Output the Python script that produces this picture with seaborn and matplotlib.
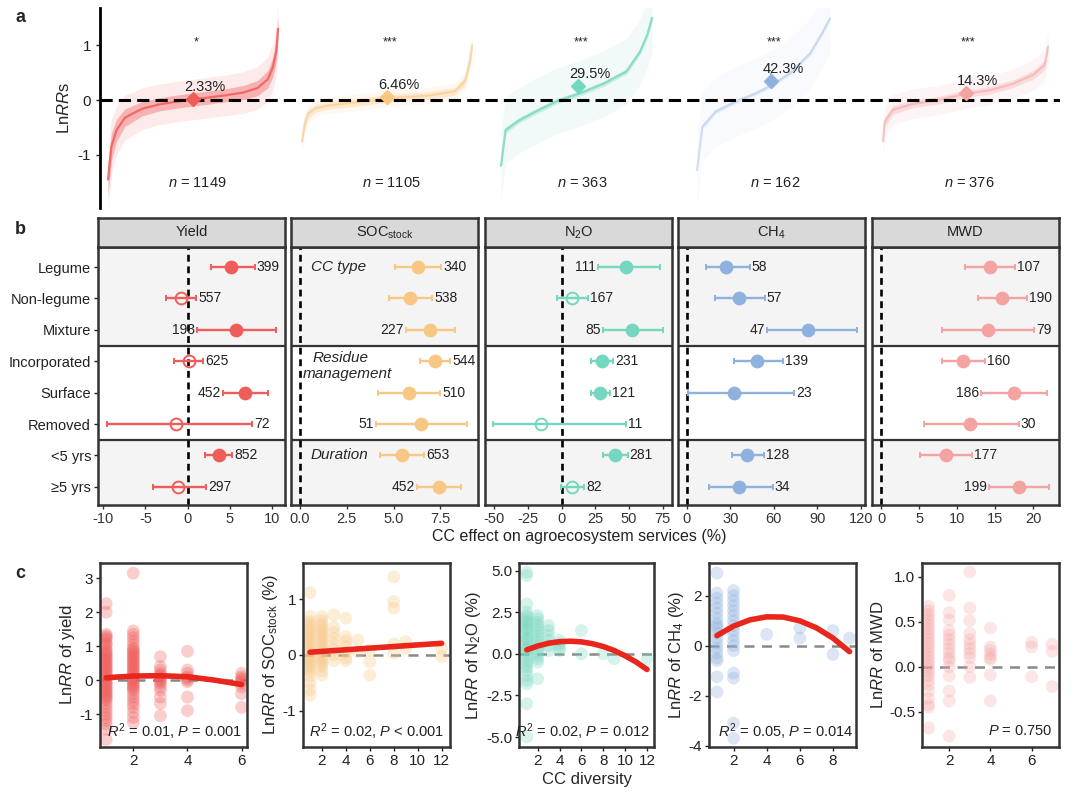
import numpy as np
import pandas as pd
import matplotlib
matplotlib.use("Agg")
import matplotlib.pyplot as plt
import seaborn as sns

sns.set_style("ticks")
plt.rcParams['font.family'] = ['Liberation Sans', 'DejaVu Sans']
plt.rcParams['mathtext.fontset'] = 'custom'
plt.rcParams['mathtext.rm'] = 'Liberation Sans'
plt.rcParams['mathtext.it'] = 'Liberation Sans:italic'
plt.rcParams['axes.unicode_minus'] = False

W, H = 1080, 799

# ---------------- data ----------------
services = ['Yield', 'SOC', 'N2O', 'CH4', 'MWD']
strip_labels = ['Yield', r'SOC$_{\mathrm{stock}}$', r'N$_2$O', r'CH$_4$', 'MWD']
colors = ['#EF5D5B', '#F8C784', '#76D7C0', '#8FB1DE', '#F4A3A3']

# panel a: overall effect and sorted LnRR curves (rank fraction -> LnRR)
mean_pct = [2.33, 6.46, 29.5, 42.3, 14.3]
mean_ci = [0.01, 0.02, 0.04, 0.14, 0.02]
mean_rank = [0.5, 0.5, 0.51, 0.56, 0.5]
n_obs = [1149, 1105, 363, 162, 376]
stars = ['*', '***', '***', '***', '***']

yield_rank = [0, 0.02, 0.05, 0.1, 0.2, 0.3, 0.4, 0.5, 0.6, 0.7, 0.8, 0.88, 0.94, 0.97, 0.99, 1.0]
yield_lnrr = [-1.45, -0.85, -0.55, -0.32, -0.16, -0.08, -0.03, 0.01, 0.05, 0.09, 0.14, 0.22, 0.38, 0.6, 0.9, 1.3]
yield_band = [0.3, 0.25, 0.2, 0.16, 0.13, 0.12, 0.12, 0.12, 0.12, 0.12, 0.13, 0.14, 0.16, 0.18, 0.2, 0.2]

soc_rank = [0, 0.015, 0.035, 0.08, 0.15, 0.35, 0.5, 0.74, 0.9, 0.96, 0.99, 1.0]
soc_lnrr = [-0.75, -0.45, -0.25, -0.15, -0.1, -0.03, 0.03, 0.08, 0.16, 0.35, 0.75, 1.0]
soc_band = [0.1, 0.09, 0.08, 0.07, 0.07, 0.07, 0.07, 0.07, 0.07, 0.08, 0.1, 0.1]

n2o_rank = [0, 0.03, 0.12, 0.23, 0.37, 0.52, 0.68, 0.83, 0.92, 0.97, 1.0]
n2o_lnrr = [-1.2, -0.55, -0.37, -0.21, -0.02, 0.12, 0.3, 0.52, 0.88, 1.2, 1.5]
n2o_band = [0.08, 0.06, 0.05, 0.05, 0.05, 0.05, 0.05, 0.05, 0.05, 0.06, 0.08]

ch4_rank = [0, 0.04, 0.14, 0.29, 0.44, 0.56, 0.7, 0.85, 0.94, 1.0]
ch4_lnrr = [-1.28, -0.49, -0.21, -0.03, 0.12, 0.27, 0.49, 0.85, 1.22, 1.49]
ch4_band = [0.05, 0.04, 0.04, 0.04, 0.04, 0.04, 0.04, 0.04, 0.05, 0.05]

mwd_rank = [0, 0.01, 0.06, 0.18, 0.34, 0.49, 0.65, 0.79, 0.91, 0.98, 1.0]
mwd_lnrr = [-0.75, -0.4, -0.18, -0.07, 0.0, 0.11, 0.18, 0.3, 0.46, 0.64, 0.97]
mwd_band = [0.1, 0.09, 0.08, 0.07, 0.07, 0.07, 0.07, 0.07, 0.08, 0.09, 0.1]

a_spread = [0.25, 0.08, 0.55, 0.6, 0.2]

# panel b: subgroup effects (%)
b_rows = ['Legume', 'Non-legume', 'Mixture', 'Incorporated', 'Surface', 'Removed', '<5 yrs', '\u22655 yrs']

yield_mean = [5.1, -0.8, 5.7, 0.1, 6.8, -1.4, 3.7, -1.1]
yield_lo = [2.7, -2.6, 1.1, -1.65, 4.2, -9.5, 2.05, -4.1]
yield_hi = [7.9, 1.0, 10.4, 1.85, 9.5, 7.6, 5.25, 2.2]
yield_n = [399, 557, 193, 625, 452, 72, 852, 297]

soc_mean = [6.3, 5.9, 6.93, 7.23, 5.82, 6.44, 5.47, 7.4]
soc_lo = [5.1, 4.76, 5.64, 6.4, 4.15, 4.06, 4.27, 6.26]
soc_hi = [7.55, 7.05, 8.25, 8.02, 7.5, 8.9, 6.61, 8.6]
soc_n = [340, 538, 227, 544, 510, 51, 653, 452]

n2o_mean = [47.9, 7.4, 52, 30, 28.8, -15.3, 39.7, 7.7]
n2o_lo = [26.8, -3.5, 31, 21.9, 22, -51.3, 30.5, -0.5]
n2o_hi = [73.2, 19.3, 75, 38.5, 36, 47.9, 49, 16.9]
n2o_n = [111, 167, 85, 231, 121, 11, 281, 82]

ch4_mean = [27.3, 35.6, 83.8, 48.5, 32.5, np.nan, 41.8, 35.6]
ch4_lo = [12.9, 19.2, 55.6, 32.3, 0.7, np.nan, 31.4, 15.2]
ch4_hi = [43.4, 53.8, 117.3, 66.5, 73.9, np.nan, 53.3, 59.1]
ch4_n = [58, 57, 47, 139, 23, 0, 128, 34]

mwd_mean = [14.3, 15.9, 14.0, 10.75, 17.5, 11.7, 8.5, 18.1]
mwd_lo = [11.05, 12.8, 8.07, 8.07, 13.2, 5.7, 5.15, 14.2]
mwd_hi = [17.6, 19.2, 20.1, 13.6, 21.8, 18.1, 11.9, 22.1]
mwd_n = [107, 190, 79, 160, 186, 30, 177, 199]

# panel c: LnRR vs CC diversity
c_yield = {
    1: [2.25, 2.0, 1.35, 1.3, 1.25, 1.2, 1.1, 1.05, 1.0, 0.9, 0.85, 0.8, 0.75, 0.7, 0.65, 0.6, 0.55, 0.5, 0.45,
        0.4, 0.35, 0.3, 0.25, 0.2, 0.15, 0.1, 0.05, 0.0, -0.05, -0.1, -0.15, -0.2, -0.25, -0.3, -0.35, -0.4,
        -0.45, -0.5, -0.55, -0.6, -0.7, -0.8, -0.9, -1.0, -1.1, -1.2, -1.3, -1.45, -1.75],
    2: [3.15, 1.45, 1.35, 1.25, 1.15, 1.05, 0.95, 0.9, 0.85, 0.8, 0.75, 0.7, 0.65, 0.6, 0.55, 0.5, 0.45, 0.4,
        0.35, 0.3, 0.25, 0.2, 0.15, 0.1, 0.05, 0.0, -0.05, -0.1, -0.15, -0.2, -0.25, -0.3, -0.4, -0.5, -0.6,
        -0.7, -0.8, -0.95, -1.1, -1.25],
    3: [0.69, 0.4, 0.3, 0.2, 0.15, 0.1, 0.05, 0.0, -0.05, -0.1, -0.2, -0.3, -0.5, -0.69, -1.05],
    4: [0.85, 0.3, 0.2, 0.1, 0.05, 0.0, -0.05, -0.5, -0.9],
    6: [0.2, 0.1, 0.05, 0.0, -0.05, -0.1, -0.2, -0.4, -0.8],
}
c_soc = {
    1: [1.12, 0.69, 0.6, 0.55, 0.5, 0.45, 0.4, 0.35, 0.3, 0.25, 0.2, 0.15, 0.1, 0.05, 0.0, -0.05, -0.1,
        -0.15, -0.2, -0.25, -0.3, -0.38, -0.5, -0.62, -0.72],
    2: [0.69, 0.62, 0.55, 0.5, 0.45, 0.4, 0.35, 0.3, 0.25, 0.2, 0.15, 0.1, 0.05, 0.0, -0.05, -0.1, -0.15,
        -0.2, -0.28, -0.36],
    3: [0.72, 0.5, 0.4, 0.3, 0.2, 0.1, 0.0, -0.1],
    4: [0.66, 0.33, 0.25, 0.15, 0.05, -0.05, -0.1],
    5: [0.27, 0.06],
    6: [0.09, -0.12, -0.36],
    8: [1.4, 0.96, 0.84, 0.2, 0.03],
    9: [0.24, 0.12],
    12: [0.12, -0.03],
}
c_n2o = {
    1: [4.9, 4.7, 3.0, 2.5, 2.3, 2.2, 2.0, 1.9, 1.8, 1.6, 1.5, 1.4, 1.2, 1.0, 0.9, 0.8, 0.6, 0.4, 0.3, 0.2,
        0.0, -0.2, -0.4, -0.6, -0.8, -1.0, -1.3, -1.6, -1.8, -3.0, -5.0],
    2: [2.3, 2.1, 1.9, 1.7, 1.5, 1.3, 1.1, 0.9, 0.7, 0.5, 0.3, 0.1, -0.1, -0.3, -0.5, -1.5],
    3: [1.7, 1.4, 1.1, 0.8, 0.5, 0.2],
    4: [0.8, 0.6, 0.4, 0.2],
    6: [1.4, 0.0],
    8: [0.0],
    9: [-0.3],
    12: [-0.3],
}
c_ch4 = {
    1: [2.9, 2.1, 1.9, 1.7, 1.5, 1.3, 1.1, 0.9, 0.8, 0.7, 0.5, 0.3, 0.1, -0.1, -0.3, -0.5, -0.6, -1.25, -1.85],
    2: [2.2, 2.0, 1.8, 1.6, 1.4, 1.2, 1.0, 0.8, 0.6, 0.4, 0.2, 0.0, -0.2, -1.1, -1.3, -3.1, -3.7],
    4: [0.45],
    6: [0.7, 0.3],
    8: [0.6, -0.35],
    9: [0.3],
}
c_mwd = {
    1: [0.67, 0.62, 0.58, 0.54, 0.5, 0.46, 0.42, 0.38, 0.34, 0.3, 0.26, 0.22, 0.18, 0.14, 0.1, 0.06, 0.02,
        -0.02, -0.06, -0.1, -0.15, -0.2, -0.27, -0.35, -0.42, -0.45, -0.68],
    2: [0.79, 0.6, 0.52, 0.4, 0.35, 0.3, 0.25, 0.2, 0.15, 0.1, 0.07, 0.0, -0.1, -0.27, -0.38, -0.77],
    3: [1.05, 0.65, 0.51, 0.37, 0.3, 0.25, 0.2, 0.15, 0.1, 0.0, -0.12],
    4: [0.43, 0.22, 0.18, 0.14, 0.1, 0.08, -0.09, -0.38],
    6: [0.27, 0.22, -0.11],
    7: [0.25, 0.17, -0.22],
}

fit_yield_x = [1, 2, 3, 4, 5, 6]
fit_yield_y = [0.07, 0.12, 0.13, 0.10, 0.0, -0.13]
fit_soc_x = [1, 12]
fit_soc_y = [0.05, 0.21]
fit_n2o_x = [1, 2, 3, 4, 5, 6, 7, 8, 9, 10, 11, 12]
fit_n2o_y = [0.24, 0.47, 0.64, 0.73, 0.76, 0.72, 0.61, 0.44, 0.2, -0.12, -0.49, -0.94]
fit_ch4_x = [1, 2, 3, 4, 5, 6, 7, 8, 9]
fit_ch4_y = [0.4, 0.78, 1.03, 1.15, 1.14, 0.99, 0.71, 0.3, -0.24]

c_stats = [r'$R^2$ = 0.01, $P$ = 0.001', r'$R^2$ = 0.02, $P$ < 0.001', r'$R^2$ = 0.02, $P$ = 0.012',
           r'$R^2$ = 0.05, $P$ = 0.014', r'$P$ = 0.750']
c_ylabels = [r'Ln$\mathit{RR}$ of yield', r'Ln$\mathit{RR}$ of SOC$_{\mathrm{stock}}$ (%)',
             r'Ln$\mathit{RR}$ of N$_2$O (%)', r'Ln$\mathit{RR}$ of CH$_4$ (%)', r'Ln$\mathit{RR}$ of MWD']

# ---------------- figure ----------------
fig = plt.figure(figsize=(W / 100, H / 100), dpi=100)
SPINE = '#333333'


def rect(l, t, r, b):
    return [l / W, 1 - b / H, (r - l) / W, (b - t) / H]


# ---- panel a
axa = fig.add_axes(rect(100, 8, 1060, 208))
a_start = [8, 202, 401, 597, 783]
a_width = [170, 170, 151, 133, 165]
a_line_alpha = [0.85, 0.6, 0.8, 0.35, 0.55]
a_band_alpha = [0.4, 0.3, 0.3, 0.15, 0.3]
a_spread_alpha = [0.12, 0.12, 0.1, 0.06, 0.1]
curves = [(yield_rank, yield_lnrr, yield_band), (soc_rank, soc_lnrr, soc_band),
          (n2o_rank, n2o_lnrr, n2o_band), (ch4_rank, ch4_lnrr, ch4_band),
          (mwd_rank, mwd_lnrr, mwd_band)]
axa.axhline(0, color='black', lw=2.2, ls=(0, (4, 2)), zorder=5)
for i, (rk, lr, bd) in enumerate(curves):
    c = colors[i]
    xs = a_start[i] + a_width[i] * np.array(rk)
    lr = np.array(lr)
    bd = np.array(bd)
    axa.fill_between(xs, lr - bd - a_spread[i], lr + bd + a_spread[i], color=c, alpha=a_spread_alpha[i], lw=0)
    axa.fill_between(xs, lr - bd, lr + bd, color=c, alpha=a_band_alpha[i], lw=0)
    sns.lineplot(x=xs, y=lr, color=c, lw=1.6, alpha=a_line_alpha[i], ax=axa, errorbar=None)
    mx = a_start[i] + a_width[i] * mean_rank[i]
    my = np.log(1 + mean_pct[i] / 100.)
    axa.errorbar(mx, my, yerr=mean_ci[i], fmt='D', ms=7, color=c, elinewidth=1.5, zorder=6)
    axa.text(mx + 12, my + 0.22, '%g%%' % mean_pct[i],
             ha='center', va='center', fontsize=10.5, color='#222222', zorder=7)
    axa.text(mx + 3, 1.05, stars[i], ha='center', va='center', fontsize=9, color='#222222')
    axa.text(mx + 4, -1.52, r'$n$ = %d' % n_obs[i], ha='center', va='center', fontsize=10.5, color='#222222')
axa.set_xlim(0, 960)
axa.set_ylim(-1.97, 1.68)
axa.set_yticks([-1, 0, 1])
axa.set_xticks([])
for s in ['top', 'right', 'bottom']:
    axa.spines[s].set_visible(False)
axa.spines['left'].set_linewidth(2)
axa.spines['left'].set_color('black')
axa.tick_params(axis='y', labelsize=11, length=3, width=1, colors='#222222')
axa.set_ylabel(r'Ln$\mathit{RR}$s', fontsize=12, labelpad=4)
axa.set_facecolor('none')

# ---- panel b
b_left = [98, 291, 485, 678, 872]
b_xlim = [(-10.6, 11.5), (-0.47, 9.5), (-57, 82), (-6.2, 123), (-1.2, 23.4)]
b_ticks = [[-10, -5, 0, 5, 10], [0, 2.5, 5, 7.5], [-50, -25, 0, 25, 50, 75], [0, 30, 60, 90, 120], [0, 5, 10, 15, 20]]
b_data = [(yield_mean, yield_lo, yield_hi, yield_n), (soc_mean, soc_lo, soc_hi, soc_n),
          (n2o_mean, n2o_lo, n2o_hi, n2o_n), (ch4_mean, ch4_lo, ch4_hi, ch4_n),
          (mwd_mean, mwd_lo, mwd_hi, mwd_n)]
b_label_left = [[2, 4], [2, 5, 7], [0, 2], [2], [4, 7]]

for j in range(5):
    l = b_left[j]
    r = l + 187
    ax = fig.add_axes(rect(l, 247, r, 505))
    st = fig.add_axes(rect(l, 218, r, 247))
    st.set_facecolor('#d9d9d9')
    st.set_xticks([])
    st.set_yticks([])
    st.text(0.5, 0.5, strip_labels[j], ha='center', va='center', fontsize=10.5, color='#222222',
            transform=st.transAxes)
    for a in (ax, st):
        for s in a.spines.values():
            s.set_color(SPINE)
            s.set_linewidth(1.8)
    ax.axhspan(-1, 2.5, color='#f4f4f4', lw=0, zorder=0)
    ax.axhspan(5.5, 9, color='#f4f4f4', lw=0, zorder=0)
    ax.axhline(2.5, color=SPINE, lw=1.6, zorder=1)
    ax.axhline(5.5, color=SPINE, lw=1.6, zorder=1)
    ax.axvline(0, color='black', lw=1.9, ls=(0, (2.6, 1.8)), zorder=2)
    mean, lo, hi, n = [np.array(v, dtype=float) for v in b_data[j]]
    c = colors[j]
    for k in range(8):
        if np.isnan(mean[k]):
            continue
        filled = lo[k] > 0 or hi[k] < 0
        ax.errorbar(mean[k], k, xerr=[[mean[k] - lo[k]], [hi[k] - mean[k]]], fmt='o', ms=8.5, color=c,
                    mfc=c if filled else 'none', mec=c, mew=1.4, elinewidth=1.7, capsize=2.5, capthick=1.4,
                    zorder=3)
        if k in b_label_left[j]:
            ax.annotate('%d' % n[k], (lo[k], k), xytext=(-1.5, 0), textcoords='offset points',
                        ha='right', va='center', fontsize=10, color='#222222', zorder=4)
        else:
            ax.annotate('%d' % n[k], (hi[k], k), xytext=(1.5, 0), textcoords='offset points',
                        ha='left', va='center', fontsize=10, color='#222222', zorder=4)
    ax.set_xlim(*b_xlim[j])
    ax.set_ylim(7.58, -0.64)
    ax.set_xticks(b_ticks[j])
    ax.set_yticks(range(8))
    ax.tick_params(axis='x', labelsize=10.5, length=3, width=1, colors='#333333', pad=2)
    if j == 0:
        ax.set_yticklabels(b_rows)
        ax.tick_params(axis='y', labelsize=10.5, length=3, width=1, colors='#222222', pad=2)
    else:
        ax.tick_params(axis='y', left=False, labelleft=False)
    if j == 1:
        ax.text(0.6, 0, 'CC type', style='italic', fontsize=11, ha='left', va='center')
        ax.text(0.7, 2.9, 'Residue', style='italic', fontsize=11, ha='left', va='center')
        ax.text(0.15, 3.42, 'management', style='italic', fontsize=11, ha='left', va='center')
        ax.text(0.55, 6, 'Duration', style='italic', fontsize=11, ha='left', va='center')

fig.text(579 / W, 1 - 537 / H, 'CC effect on agroecosystem services (%)', ha='center', va='center',
         fontsize=11.5, color='#222222')

# ---- panel c
c_left = [100, 303, 519, 709, 922]
c_right = [247, 450, 654, 856, 1059]
c_xlim = [(0.77, 6.2), (0.42, 12.7), (0.29, 12.64), (0.52, 9.39), (0.68, 7.33)]
c_ylim = [(-1.97, 3.45), (-1.65, 1.65), (-5.6, 5.46), (-4.05, 3.3), (-0.89, 1.15)]
c_xt = [[2, 4, 6], [2, 4, 6, 8, 10, 12], [2, 4, 6, 8, 10, 12], [2, 4, 6, 8], [2, 4, 6]]
c_yt = [[-1, 0, 1, 2, 3], [-1, 0, 1], [-5, -2.5, 0, 2.5, 5], [-4, -2, 0, 2], [-0.5, 0, 0.5, 1.0]]
c_sets = [c_yield, c_soc, c_n2o, c_ch4, c_mwd]
c_fits = [(fit_yield_x, fit_yield_y), (fit_soc_x, fit_soc_y), (fit_n2o_x, fit_n2o_y),
          (fit_ch4_x, fit_ch4_y), None]
c_stat_pos = [(0.51, 'center'), (0.5, 'center'), (0.47, 'center'), (0.52, 'center'), (0.95, 'right')]
c_alpha = [0.3, 0.32, 0.3, 0.32, 0.28]

for j in range(5):
    ax = fig.add_axes(rect(c_left[j], 563, c_right[j], 747))
    rows = [(x, y) for x, ys in c_sets[j].items() for y in ys]
    df = pd.DataFrame(rows, columns=['div', 'lnrr'])
    ax.axhline(0, color='#888888', lw=1.8, ls=(0, (4, 3)), zorder=1)
    sns.scatterplot(data=df, x='div', y='lnrr', color=colors[j], alpha=c_alpha[j], s=85, edgecolor='none',
                    ax=ax, legend=False, zorder=2)
    if c_fits[j] is not None:
        sns.lineplot(x=c_fits[j][0], y=c_fits[j][1], color='#E8261B', lw=4, ax=ax, errorbar=None, zorder=3)
    ax.set_xlim(*c_xlim[j])
    ax.set_ylim(*c_ylim[j])
    ax.set_xticks(c_xt[j])
    ax.set_yticks(c_yt[j])
    if j in (2, 4):
        ax.yaxis.set_major_formatter(matplotlib.ticker.FormatStrFormatter('%.1f'))
    ax.tick_params(labelsize=11, length=3, width=1, colors='#222222', pad=2)
    for s in ax.spines.values():
        s.set_color(SPINE)
        s.set_linewidth(1.8)
    ax.set_ylabel(c_ylabels[j], fontsize=12, labelpad=2)
    ax.set_xlabel('CC diversity' if j == 2 else '', fontsize=12, labelpad=3)
    px, ha = c_stat_pos[j]
    ax.text(px, 0.085, c_stats[j], transform=ax.transAxes, ha=ha, va='center', fontsize=10.5,
            color='#222222', zorder=4)

for lab, y in [('a', 18), ('b', 229), ('c', 573)]:
    fig.text(15 / W, 1 - y / H, lab, fontweight='bold', fontsize=13, ha='left', va='center')

fig.savefig('out.png', dpi=100)
